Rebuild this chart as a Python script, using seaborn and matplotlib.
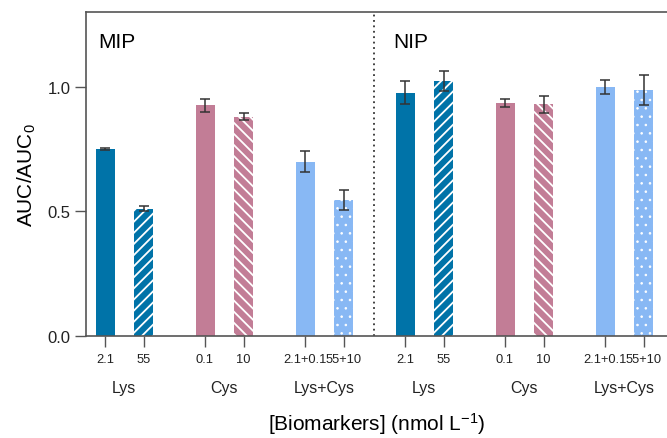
import numpy as np
import pandas as pd
import matplotlib
matplotlib.use("Agg")
import matplotlib.pyplot as plt
import matplotlib.transforms as mtransforms
import seaborn as sns

# ---- data ----
panels = ["MIP", "NIP"]
groups = ["Lys", "Cys", "Lys+Cys"]
conc_labels = ["2.1", "55", "0.1", "10", "2.1+0.1", "55+10"]
mip_values = [0.750, 0.510, 0.925, 0.880, 0.700, 0.545]
mip_errors = [0.005, 0.010, 0.026, 0.015, 0.042, 0.040]
nip_values = [0.977, 1.025, 0.936, 0.929, 0.999, 0.988]
nip_errors = [0.048, 0.040, 0.016, 0.035, 0.028, 0.060]

colors = {"Lys": "#0073A8", "Cys": "#C27D96", "Lys+Cys": "#88B8F4"}
hatch_for = {"Lys": "///", "Cys": "\\\\\\", "Lys+Cys": ".."}

sns.set_theme(style="white")
plt.rcParams["font.family"] = ["Liberation Sans", "DejaVu Sans"]
plt.rcParams["mathtext.fontset"] = "custom"
plt.rcParams["mathtext.rm"] = "Liberation Sans"
plt.rcParams["mathtext.it"] = "Liberation Sans:italic"
plt.rcParams["mathtext.default"] = "regular"
plt.rcParams["text.color"] = "black"
plt.rcParams["axes.labelcolor"] = "black"
plt.rcParams["hatch.color"] = "white"
plt.rcParams["hatch.linewidth"] = 1.3

# layout in pixel-like units
group_step = 100.0
pair_off = 38.5
bar_w = 19.0

rows = []
for p, (vals, errs) in enumerate([(mip_values, mip_errors), (nip_values, nip_errors)]):
    for i, (v, e) in enumerate(zip(vals, errs)):
        g = i // 2
        pos = (p * 3 + g) * group_step + (i % 2) * pair_off
        rows.append(dict(panel=panels[p], group=groups[g], conc=conc_labels[i],
                         second=(i % 2 == 1), pos=pos, value=v, err=e))
df = pd.DataFrame(rows)

fig = plt.figure(figsize=(6.67, 4.39), dpi=100)
ax = fig.add_axes([86 / 667, 1 - 337 / 439, 1 - 86 / 667, 324 / 439])

sns.barplot(data=df, x="pos", y="value", hue="group", palette=colors,
            native_scale=True, dodge=False, legend=False, errorbar=None,
            saturation=1, ax=ax)

positions = df["pos"].to_numpy()
for patch in ax.patches:
    cx = patch.get_x() + patch.get_width() / 2
    idx = int(np.argmin(np.abs(positions - cx)))
    row = df.iloc[idx]
    patch.set_x(row["pos"] - bar_w / 2)
    patch.set_width(bar_w)
    patch.set_linewidth(0)
    if row["second"]:
        patch.set_hatch(hatch_for[row["group"]])
        patch.set_edgecolor("white")
        if row["group"] == "Lys+Cys":
            if hasattr(patch, "set_hatch_linewidth"):
                patch.set_hatch_linewidth(0.6)
            else:
                patch._hatch_linewidth = 0.6

ax.errorbar(df["pos"], df["value"], yerr=df["err"], fmt="none",
            ecolor="#333333", elinewidth=1.1, capsize=3.6, capthick=1.1, zorder=5)

ax.set_xlim(-19, 562)
ax.set_ylim(0, 1.30)
ax.set_yticks([0.0, 0.5, 1.0])
ax.set_yticklabels(["0.0", "0.5", "1.0"])
ax.set_xticks(positions)
ax.set_xticklabels(df["conc"], fontsize=9.3)
ax.tick_params(axis="y", labelsize=12, length=8, width=1, color="#555555",
               labelcolor="#222222", direction="out", pad=3, left=True)
ax.tick_params(axis="x", length=8, width=1, color="#555555",
               labelcolor="#222222", direction="out", pad=4, bottom=True)

for s in ["left", "top", "bottom"]:
    ax.spines[s].set_color("#555555")
    ax.spines[s].set_linewidth(1.2)
ax.spines["right"].set_visible(False)

# divider
ax.axvline(2 * group_step + pair_off + (group_step - pair_off) / 2,
           color="#333333", linestyle=(0, (1, 2)), linewidth=1.3)

# panel labels
ax.text(-7, 1.18, panels[0], fontsize=15, va="center", ha="left")
ax.text(288, 1.18, panels[1], fontsize=15, va="center", ha="left")

# group labels
trans = mtransforms.blended_transform_factory(ax.transData, ax.transAxes)
for k in range(6):
    cx = k * group_step + pair_off / 2
    ax.text(cx, -0.158, groups[k % 3], transform=trans, fontsize=11.5,
            ha="center", va="center", color="#222222")

ax.set_ylabel("AUC/AUC$_0$", fontsize=15, labelpad=7)
ax.set_xlabel("[Biomarkers] (nmol L$^{-1}$)", fontsize=15)
ax.xaxis.set_label_coords(0.5, -0.27)
ax.xaxis.label.set_va("center")

fig.savefig("out.png", dpi=100)
